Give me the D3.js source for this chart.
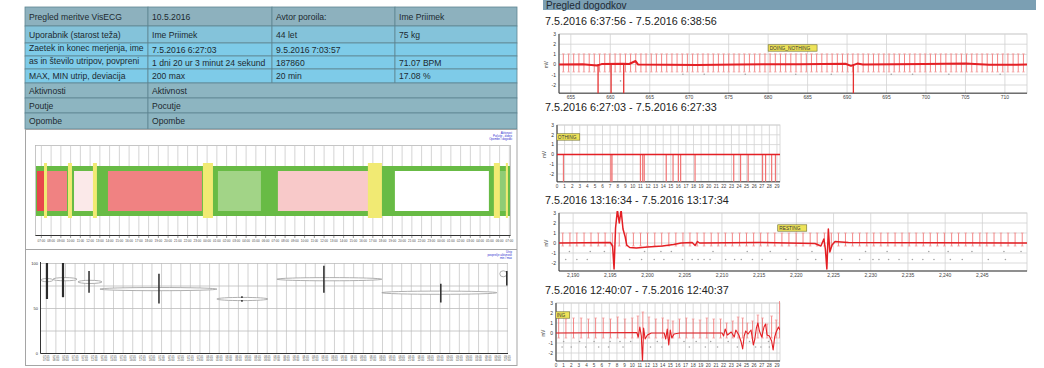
<!DOCTYPE html>
<html>
<head>
<meta charset="utf-8">
<script src="https://cdn.jsdelivr.net/npm/d3@7"></script>
<style>
  body { margin: 0; background: #fff; }
  svg { display: block; font-family: "Liberation Sans", Arial, sans-serif; }
</style>
</head>
<body>
<svg id="chart" width="1044" height="368"></svg>
<script>
// ---------- data ----------
const tableRows = [
  ["Pregled meritve VisECG", "10.5.2016", "Avtor poroila:", "Ime Priimek"],
  ["Uporabnik (starost teža)", "Ime Priimek", "44 let", "75 kg"],
  ["Zaetek in konec merjenja, ime", "7.5.2016 6:27:03", "9.5.2016 7:03:57", ""],
  ["as in število utripov, povpreni", "1 dni 20 ur 3 minut 24 sekund", "187860", "71.07 BPM"],
  ["MAX, MIN utrip, deviacija", "200 max", "20 min", "17.08 %"],
  ["Aktivnosti", "Aktivnost"],
  ["Poutje", "Pocutje"],
  ["Opombe", "Opombe"]
];

// activity overview, hours from start of measurement
const measureStart = new Date(2016, 4, 7, 6, 27, 3);
const measureEnd = new Date(2016, 4, 9, 7, 3, 57);
const actStart = [0.10, 1.13, 3.90, 7.38, 18.66, 24.81, 36.81, 47.58];
const actEnd   = [0.92, 3.18, 5.85, 17.02, 23.07, 34.25, 46.45, 48.40];
const actColor = ["#e8474a", "#f08282", "#fbe9e9", "#f08282", "#a2d487", "#f8c9c9", "#ffffff", "#8fcc75"];
const eventStart = [0.82, 3.28, 5.84, 17.12, 34.04, 46.96, 48.19];
const eventEnd   = [1.13, 3.69, 6.25, 18.15, 35.48, 47.58, 48.40];

// heart rate per activity
const hrStart = [0.00, 1.25, 3.85, 6.14, 18.31, 24.56, 35.48, 47.76];
const hrEnd   = [1.25, 3.75, 6.35, 18.31, 23.62, 35.48, 47.45, 48.49];
const hrAvg   = [81, 82, 79, 71, 60, 82, 67, 88];
const hrMin   = [60, 62, 67, 55, 57, 67, 56, 75];
const hrMax   = [100, 100, 91, 88, 63, 97, 77, 91];
const hrAt    = [0.62, 2.29, 5.0, 12.28, 20.92, 29.45, 41.62, 48.49];

// event 1: 7.5.2016 6:37:56 - 6:38:56
const aTicks = [655, 660, 665, 670, 675, 680, 685, 690, 695, 700, 705, 710];
const aBeats = [654.05, 654.72, 655.36, 656.02, 656.66, 657.33, 657.97, 658.64, 659.3, 659.94,
  660.61, 661.25, 661.92, 662.57, 663.22, 663.88, 664.53, 665.19, 665.84, 666.5, 667.15, 667.81,
  668.46, 669.12, 669.77, 670.43, 671.08, 671.74, 672.39, 673.05, 673.7, 674.36, 675.01, 675.67,
  676.32, 676.98, 677.63, 678.29, 678.94, 679.6, 680.25, 680.91, 681.56, 682.22, 682.87, 683.53,
  684.18, 684.84, 685.49, 686.15, 686.8, 687.46, 688.11, 688.77, 689.42, 690.08, 690.73, 691.39,
  692.04, 692.7, 693.35, 694.01, 694.66, 695.32, 695.97, 696.63, 697.28, 697.94, 698.59, 699.25,
  699.9, 700.56, 701.21, 701.87, 702.52, 703.18, 703.83, 704.49, 705.14, 705.8, 706.45, 707.11,
  707.76, 708.42, 709.07, 709.73, 710.38, 711.04, 711.69, 712.35];
const aPeak = 1.05, aTrough = -0.72;
const aDrops = [658.45, 660.1, 661.7, 690.8];
const aBase = [[653.5, 0], [656.5, 0.03], [658.3, -0.08], [658.9, 0.05], [661.6, 0.08], [662.4, 0.06],
  [663.2, 0.35], [663.5, 0.02], [671, -0.04], [676, 0.02], [684, 0.03], [689.8, 0.08], [690.5, -0.12],
  [691.3, 0.1], [692, 0.02], [699.8, 0.05], [705, 0.1], [708, -0.02], [712.8, 0]];
const aDots = [[661.3, -1.6], [669.2, -0.95], [671.9, -0.95], [677.1, -0.95], [683.5, -0.95],
  [688.0, -0.95], [695.6, -0.95], [698.3, -0.95], [702.9, -0.95], [709.4, -0.95]];

// event 2: 7.5.2016 6:27:03 - 6:27:33
const bTimes = [0.85, 7.1, 7.25, 11.0, 11.3, 11.5, 14.4, 15.3, 16.0, 16.3, 18.2, 23.3, 24.2, 25.2, 27.1, 27.5, 28.3, 28.8];

// event 3: 7.5.2016 13:16:34 - 13:17:34
const cTicks = [2190, 2195, 2200, 2205, 2210, 2215, 2220, 2225, 2230, 2235, 2240, 2245];
const cBeats = [2188.6, 2189.57, 2190.5, 2191.47, 2192.4, 2193.38, 2194.3, 2195.27, 2196.2, 2197.16,
  2198.1, 2199.06, 2200.0, 2200.97, 2201.9, 2202.86, 2203.8, 2204.76, 2205.7, 2206.67, 2207.6,
  2208.56, 2209.5, 2210.46, 2211.4, 2212.37, 2213.3, 2214.26, 2215.2, 2216.16, 2217.1, 2218.06,
  2219.0, 2219.97, 2220.9, 2221.86, 2222.8, 2223.77, 2224.7, 2225.66, 2226.6, 2227.56, 2228.5,
  2229.47, 2230.4, 2231.36, 2232.3, 2233.27, 2234.2, 2235.16, 2236.1, 2237.07, 2238.0, 2238.96,
  2239.9, 2240.87, 2241.8, 2242.76, 2243.7, 2244.66, 2245.6, 2246.57, 2247.5, 2248.46, 2249.4, 2250.36];
const cPeak = 1.0, cTrough = -0.3;
const cBase = [[2188.1, 0], [2195.0, 0.05], [2195.3, -0.3], [2195.5, -2.6], [2195.7, 1.5], [2195.95, 3.3],
  [2196.2, 2.0], [2196.45, 3.3], [2196.7, 1.4], [2197.0, 0.6], [2197.2, -0.2], [2197.6, -0.45],
  [2198.5, -0.5], [2200, -0.4], [2202, -0.3], [2203.5, -0.15], [2204.5, 0], [2206, 0.05], [2206.4, -0.25],
  [2206.7, 0.15], [2207, 0], [2215, 0.05], [2222.5, -0.05], [2223.3, -0.3], [2223.7, 0.4], [2223.9, -0.6],
  [2224.1, -2.6], [2224.3, 1.4], [2224.5, -0.9], [2224.8, -0.2], [2225.2, 0.15], [2226, 0.1], [2227, 0.05], [2251, 0]];
const cDotsUp = [2189.5, 2192.3, 2194.2, 2199.6, 2201.8, 2203.2, 2208.8, 2213.4, 2216.5, 2222.1,
  2229.3, 2232.2, 2237.8, 2240.4, 2243.6, 2247.9, 2250.2];
const cDotsLow = [2189.0, 2190.5, 2191.9, 2197.6, 2199.2, 2200.9, 2202.2, 2204.7, 2206.0, 2206.8,
  2207.6, 2208.4, 2210.5, 2211.7, 2212.6, 2214.1, 2215.4, 2218.6, 2220.2, 2222.6, 2226.1, 2228.5,
  2230.3, 2231.1, 2232.4, 2233.8, 2235.6, 2237.0, 2238.5, 2240.7, 2242.3, 2245.8, 2248.1];

// event 4: 7.5.2016 12:40:07 - 12:40:37
const dBeats = [0.35, 1.3, 2.3, 3.3, 4.25, 5.2, 6.2, 7.15, 8.1, 9.05, 10.0, 10.75, 11.4, 12.2, 13.1, 14.0,
  14.7, 15.35, 16.2, 17.1, 18.0, 18.9, 19.8, 20.7, 21.6, 22.4, 23.2, 23.9, 24.5, 25.1, 25.8, 26.5,
  27.1, 27.7, 28.3, 28.9, 29.35];
const dHigh = [1.5, 1.4, 1.5, 1.5, 1.4, 1.5, 1.5, 1.4, 1.6, 1.4, 1.5, 1.7, 2.1, 1.6, 1.4, 1.5, 1.3, 1.2,
  1.4, 1.5, 1.4, 1.3, 1.5, 1.4, 1.4, 1.0, 1.2, 1.6, 1.5, 1.0, 1.2, 1.8, 1.5, 0.9, 1.7, 1.3, 3.3];
const dTrough = -0.5;
const dBase = [[0, 0], [10.6, 0.05], [10.8, -0.4], [11.0, 0.6], [11.2, -0.3], [11.35, -2.9], [11.5, 0.5],
  [11.7, -0.6], [12.0, -0.2], [12.5, 0], [14.2, 0], [14.4, -0.6], [14.6, 0.4], [14.8, -1.2], [15.0, 0.3],
  [15.2, -0.5], [15.5, -0.1], [16.2, 0], [21.8, 0], [22.0, -0.3], [22.2, 0.4], [22.5, -0.2], [23.0, 0.1],
  [23.4, -0.4], [23.6, 0.3], [24.0, -0.2], [24.3, -0.9], [24.5, -1.6], [24.7, -0.3], [24.9, 0.2],
  [25.2, -0.1], [25.6, 0.3], [25.9, -1.2], [26.1, -0.6], [26.3, 0.5], [26.5, 1.0], [26.7, 0.2],
  [27.0, -0.4], [27.3, 0.6], [27.5, 0.9], [27.7, -0.2], [28.0, -0.3], [28.3, -0.8], [28.5, -1.7],
  [28.7, -0.4], [28.9, 0.1], [29.2, 0.6], [29.4, 0.3]];
const dDotsUp = [1.0, 3.1, 5.0, 7.1, 8.4, 9.8, 13.3, 16.8, 18.4, 20.3, 22.6, 25.4, 27.9];
const dDotsLow = [0.8, 2.0, 3.9, 5.6, 6.9, 8.8, 12.4, 13.9, 17.5, 19.6, 21.2, 23.8, 26.2, 26.9, 28.0];

const svg = d3.select("#chart");
const atHour = h => d3.timeSecond.offset(measureStart, Math.round(h * 3600));

// ---------- left: summary table ----------
const rowEdges = [7, 26, 43, 56, 69, 83, 98, 113, 129];
const colEdges = [25, 148, 272, 395, 517];
const rowFills = ["#8db1be", "#84c3da", "#7ecbe8", "#7ecbe8", "#7ecbe8", "#8db5c1", "#8db5c1", "#8db5c1"];

tableRows.forEach((row, i) => {
  const y0 = rowEdges[i], y1 = rowEdges[i + 1];
  const cols = row.length === 4 ? colEdges : [colEdges[0], colEdges[1], colEdges[4]];
  row.forEach((txt, j) => {
    svg.append("rect")
      .attr("x", cols[j]).attr("y", y0)
      .attr("width", cols[j + 1] - cols[j]).attr("height", y1 - y0)
      .attr("fill", rowFills[i]).attr("stroke", "#5f8592").attr("stroke-width", 0.8);
    svg.append("text")
      .attr("x", cols[j] + 4).attr("y", (y0 + y1) / 2 + 3 - ((i === 2 || i === 3) && j === 0 ? 2 : 0))
      .attr("font-size", 8.6).attr("fill", "#1d2a30")
      .text(txt);
  });
});

// outer frame of the report
svg.append("rect").attr("x", 25.5).attr("y", 129.5).attr("width", 491.5).attr("height", 236)
  .attr("fill", "none").attr("stroke", "#a5a5a5");
svg.append("line").attr("x1", 25.5).attr("x2", 517).attr("y1", 249.5).attr("y2", 249.5)
  .attr("stroke", "#a5a5a5");

// tiny blue legends
function legend(y, lines) {
  svg.append("g").selectAll("text").data(lines).join("text")
    .attr("x", 512).attr("y", (d, i) => y + i * 3)
    .attr("text-anchor", "end").attr("font-size", 2.8).attr("fill", "#2c2ccf")
    .text(d => d);
}

// ---------- activity timeline ----------
const actX = d3.scaleTime().domain([measureStart, measureEnd]).range([36, 510]);
const hourTicks = actX.ticks(d3.timeHour.every(1));
const g1 = svg.append("g");
g1.append("rect").attr("x", 35.5).attr("y", 145.5).attr("width", 475).attr("height", 90)
  .attr("fill", "#fff").attr("stroke", "#b8b8b8").attr("stroke-width", 0.8);
g1.selectAll(".vg").data(hourTicks).join("line")
  .attr("x1", d => actX(d)).attr("x2", d => actX(d))
  .attr("y1", 145.5).attr("y2", 235.5).attr("stroke", "#c9c9c9").attr("stroke-width", 0.8);
g1.append("rect")
  .attr("x", actX(measureStart)).attr("y", 166)
  .attr("width", actX(measureEnd) - actX(measureStart)).attr("height", 50)
  .attr("fill", "#68bb45");
g1.selectAll(".act").data(actStart).join("rect")
  .attr("x", (d, i) => actX(atHour(d))).attr("y", 171)
  .attr("width", (d, i) => actX(atHour(actEnd[i])) - actX(atHour(d))).attr("height", 40)
  .attr("fill", (d, i) => actColor[i]);
g1.selectAll(".evt").data(eventStart).join("rect")
  .attr("x", d => actX(atHour(d))).attr("y", 163)
  .attr("width", (d, i) => actX(atHour(eventEnd[i])) - actX(atHour(d))).attr("height", 55)
  .attr("fill", "#f1ea73");
g1.append("line").attr("x1", 35.5).attr("x2", 510.5).attr("y1", 235.5).attr("y2", 235.5)
  .attr("stroke", "#333").attr("stroke-width", 1.2);
g1.selectAll(".tk").data(hourTicks).join("line")
  .attr("x1", d => actX(d)).attr("x2", d => actX(d))
  .attr("y1", 235.5).attr("y2", 238).attr("stroke", "#555").attr("stroke-width", 0.6);
g1.selectAll(".tl").data(hourTicks).join("text")
  .attr("x", d => actX(d)).attr("y", 242)
  .attr("text-anchor", "middle").attr("font-size", 3).attr("fill", "#444")
  .text(d3.timeFormat("%H:%M"));
legend(134, ["Aktivnost", "Počutje - dobro", "Opombe / dogodki"]);

// ---------- heart rate per activity ----------
const hrX = d3.scaleTime().domain([measureStart, measureEnd]).range([41, 508]);
const hrY = d3.scaleLinear().domain([0, 100]).range([353, 263]);
const g2 = svg.append("g");
g2.selectAll(".vg").data(hourTicks).join("line")
  .attr("x1", d => hrX(d)).attr("x2", d => hrX(d))
  .attr("y1", 263).attr("y2", 353).attr("stroke", "#c6c6c6").attr("stroke-width", 0.8);
g2.selectAll(".hg").data([0, 25, 50, 75, 100]).join("line")
  .attr("x1", 41).attr("x2", 508).attr("y1", d => hrY(d) + 0.5).attr("y2", d => hrY(d) + 0.5)
  .attr("stroke", "#bdbdbd").attr("stroke-width", 0.8);
g2.append("line").attr("x1", 40.5).attr("x2", 40.5).attr("y1", 262).attr("y2", 353.5)
  .attr("stroke", "#333").attr("stroke-width", 1);
g2.append("line").attr("x1", 40.5).attr("x2", 508).attr("y1", 353.5).attr("y2", 353.5)
  .attr("stroke", "#333").attr("stroke-width", 1);
g2.selectAll(".yl").data([0, 50, 100]).join("text")
  .attr("x", 38).attr("y", d => hrY(d) + 1.5).attr("text-anchor", "end")
  .attr("font-size", 4).attr("fill", "#333").text(d => d);
g2.selectAll(".tl1").data(hourTicks).join("text")
  .attr("x", d => hrX(d)).attr("y", 357.5).attr("text-anchor", "middle")
  .attr("font-size", 2.6).attr("fill", "#444").text(d3.timeFormat("%d.%m"));
g2.selectAll(".tl2").data(hourTicks).join("text")
  .attr("x", d => hrX(d)).attr("y", 360.5).attr("text-anchor", "middle")
  .attr("font-size", 2.6).attr("fill", "#444").text(d3.timeFormat("%H:%M"));
g2.selectAll(".avg").data(hrAvg).join("ellipse")
  .attr("cx", (d, i) => (hrX(atHour(hrStart[i])) + hrX(atHour(hrEnd[i]))) / 2)
  .attr("cy", d => hrY(d))
  .attr("rx", (d, i) => Math.max(3, (hrX(atHour(hrEnd[i])) - hrX(atHour(hrStart[i]))) / 2))
  .attr("ry", (d, i) => i === 7 ? 3 : 1.6)
  .attr("fill", "#fff").attr("stroke", "#9c9c9c").attr("stroke-width", 0.8);
g2.selectAll(".rng").data(hrAt).join("line")
  .attr("x1", d => hrX(atHour(d))).attr("x2", d => hrX(atHour(d)))
  .attr("y1", (d, i) => hrY(hrMin[i])).attr("y2", (d, i) => hrY(hrMax[i]))
  .attr("stroke", "#2b2b2b").attr("stroke-width", (d, i) => i < 2 ? 2.2 : 1.5)
  .attr("stroke-dasharray", (d, i) => hrMax[i] - hrMin[i] < 10 ? "1.6 2.2" : null);
legend(253, ["Utrip", "povprečje aktivnosti", "min / max"]);

// ---------- right: event list ----------
svg.append("rect").attr("x", 543).attr("y", 0).attr("width", 493).attr("height", 10).attr("fill", "#7b9fb3");
svg.append("text").attr("x", 546).attr("y", 8.5)
  .attr("font-size", 10).attr("fill", "#1e2a33").text("Pregled dogodkov");

function ecgPanel(p) {
  const x = d3.scaleLinear().domain(p.domain).range([p.left, p.right]);
  const y = d3.scaleLinear().domain([-2, 3]).range([p.yMinus2, p.y3]);
  const top = y(3), bottom = y(-2.8);
  const g = svg.append("g");

  g.append("text").attr("x", 545).attr("y", p.titleY).attr("font-size", 10.8).attr("fill", "#222")
    .text(p.title);

  g.append("rect").attr("x", p.left).attr("y", top).attr("width", p.right - p.left).attr("height", bottom - top)
    .attr("fill", "#fff").attr("stroke", "#cfcfcf").attr("stroke-width", 0.8);
  g.selectAll(".vg").data(p.ticks).join("line")
    .attr("x1", d => x(d)).attr("x2", d => x(d)).attr("y1", top).attr("y2", bottom)
    .attr("stroke", "#d2d2d2").attr("stroke-width", 0.8);
  g.selectAll(".hg").data([3, 2, 1, 0, -1, -2]).join("line")
    .attr("x1", p.left).attr("x2", p.right).attr("y1", d => y(d)).attr("y2", d => y(d))
    .attr("stroke", "#d2d2d2").attr("stroke-width", 0.8);
  g.append("line").attr("x1", p.left).attr("x2", p.left).attr("y1", top).attr("y2", bottom)
    .attr("stroke", "#333").attr("stroke-width", 1);
  g.append("line").attr("x1", p.left).attr("x2", p.right).attr("y1", bottom).attr("y2", bottom)
    .attr("stroke", "#333").attr("stroke-width", 1);
  g.selectAll(".yl").data([3, 2, 1, 0, -1, -2]).join("text")
    .attr("x", p.left - 3).attr("y", d => y(d) + 1.8).attr("text-anchor", "end")
    .attr("font-size", 5).attr("fill", "#333").text(d => d);
  g.append("text").attr("transform", `translate(${p.left - 11},${y(0)}) rotate(-90)`)
    .attr("text-anchor", "middle").attr("font-size", 4.5).attr("fill", "#333").text("mV");
  g.selectAll(".xl").data(p.ticks).join("text")
    .attr("x", d => x(d)).attr("y", bottom + 6).attr("text-anchor", "middle")
    .attr("font-size", p.tickSize).attr("fill", "#444").text(p.fmt);

  const clipId = "clip" + p.id;
  g.append("clipPath").attr("id", clipId).append("rect")
    .attr("x", p.left).attr("y", top - 2).attr("width", p.right - p.left).attr("height", bottom - top + 2);
  const c = g.append("g").attr("clip-path", `url(#${clipId})`);

  // R-peak markers
  (p.dots || []).forEach(([t, v]) => {
    c.append("circle").attr("cx", x(t)).attr("cy", y(v)).attr("r", 0.8).attr("fill", "#a3a3a3");
  });
  // beats
  (p.beats || []).forEach((t, i) => {
    const hi = Array.isArray(p.peak) ? p.peak[i] : p.peak;
    c.append("line").attr("x1", x(t)).attr("x2", x(t)).attr("y1", y(p.trough)).attr("y2", y(hi))
      .attr("stroke", "#f06a6a").attr("stroke-width", 0.8);
    [hi, p.trough].forEach(v => {
      c.append("line").attr("x1", x(t) - 1.3).attr("x2", x(t) + 1.3).attr("y1", y(v)).attr("y2", y(v))
        .attr("stroke", "#f4a0a0").attr("stroke-width", 0.8);
    });
  });
  // drops to the bottom
  (p.drops || []).forEach(t => {
    c.append("line").attr("x1", x(t)).attr("x2", x(t)).attr("y1", y(0)).attr("y2", bottom + 2)
      .attr("stroke", p.dropColor || "#e63030").attr("stroke-width", p.dropWidth || 1.3);
  });
  // signal baseline
  c.append("path").datum(p.base)
    .attr("d", d3.line().x(d => x(d[0])).y(d => y(d[1])))
    .attr("fill", "none").attr("stroke", "#e41f24").attr("stroke-width", p.baseWidth || 1.6)
    .attr("stroke-linejoin", "round");
  // activity label (cut by the plot's left edge in the report, so only its tail shows)
  const lb = p.label;
  c.append("rect").attr("x", x(lb.t0)).attr("y", y(lb.v) - 3.2)
    .attr("width", x(lb.t1) - x(lb.t0)).attr("height", 6.4)
    .attr("fill", "#eee35a").attr("stroke", "#6b6b2a").attr("stroke-width", 0.6);
  g.append("text").attr("x", x(lb.t0) + 1.5).attr("y", y(lb.v) + 1.7)
    .attr("font-size", 4.8).attr("fill", "#333").text(lb.text);
}

ecgPanel({
  id: "a", title: "7.5.2016 6:37:56 - 7.5.2016 6:38:56", titleY: 25,
  domain: [653.5, 712.8], left: 559, right: 1027, y3: 34, yMinus2: 85,
  ticks: aTicks, fmt: d3.format(","), tickSize: 5,
  beats: aBeats, peak: aPeak, trough: aTrough, drops: aDrops, base: aBase, baseWidth: 2,
  dots: aDots,
  label: { t0: 680.0, t1: 686.2, v: 1.63, text: "DOING_NOTHING" }
});
ecgPanel({
  id: "b", title: "7.5.2016 6:27:03 - 7.5.2016 6:27:33", titleY: 111,
  domain: [0, 29.4], left: 557, right: 780, y3: 125, yMinus2: 174,
  ticks: d3.range(0, 30), fmt: d3.format("d"), tickSize: 4.6,
  drops: bTimes, dropColor: "#f07373", dropWidth: 1.2,
  base: [[0, 0], [29.4, 0]], baseWidth: 1.5,
  label: { t0: -0.1, t1: 3.0, v: 1.78, text: "OTHING" }
});
ecgPanel({
  id: "c", title: "7.5.2016 13:16:34 - 7.5.2016 13:17:34", titleY: 204,
  domain: [2188.1, 2251], left: 559, right: 1027, y3: 213, yMinus2: 263,
  ticks: cTicks, fmt: d3.format(","), tickSize: 5,
  beats: cBeats, peak: cPeak, trough: cTrough, base: cBase, baseWidth: 1.5,
  dots: cDotsUp.map(t => [t, -0.85]).concat(cDotsLow.map(t => [t, -1.65])),
  label: { t0: 2217.5, t1: 2221.4, v: 1.5, text: "RESTING" }
});
ecgPanel({
  id: "d", title: "7.5.2016 12:40:07 - 7.5.2016 12:40:37", titleY: 294,
  domain: [0, 29.4], left: 556, right: 780, y3: 303, yMinus2: 353,
  ticks: d3.range(0, 30), fmt: d3.format("d"), tickSize: 4.6,
  beats: dBeats, peak: dHigh, trough: dTrough, base: dBase, baseWidth: 1.1,
  dots: dDotsUp.map(t => [t, -0.85]).concat(dDotsLow.map(t => [t, -1.4])),
  label: { t0: -0.1, t1: 1.8, v: 1.8, text: "ING" }
});
</script>
</body>
</html>
